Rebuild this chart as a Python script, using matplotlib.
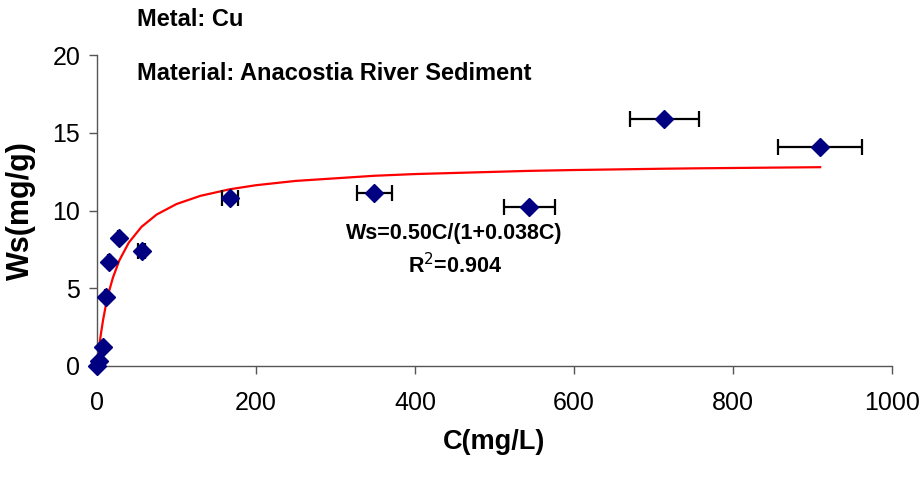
import numpy as np
import matplotlib.pyplot as plt

plt.rcParams['font.family'] = ['Liberation Sans', 'DejaVu Sans']

# measured equilibrium data: C (mg/L), Ws (mg/g), x error (mg/L)
conc = [0.5, 2.0, 7.6, 11.0, 15.0, 28.0, 56.0, 167.0, 349.0, 544.0, 714.0, 910.0]
ws = [0.0, 0.3, 1.2, 4.45, 6.7, 8.25, 7.4, 10.8, 11.1, 10.2, 15.9, 14.1]
conc_err = [0.0, 0.0, 0.5, 0.5, 1.0, 1.5, 4.0, 10.0, 22.0, 32.0, 43.0, 53.0]

# Langmuir fit Ws = a*C/(1+b*C)
fit_a = 0.50
fit_b = 0.038
fit_r2 = 0.904
fit_c = [0, 1, 2, 3, 5, 7.6, 11, 15, 20, 28, 40, 56, 75, 100, 130, 167, 200, 250,
         349, 400, 544, 600, 714, 758, 910]

fig = plt.figure(figsize=(9.24, 4.79), dpi=100)
ax = fig.add_axes([0.105, 0.236, 0.86, 0.649])

fc = np.array(fit_c, dtype=float)
ax.plot(fc, fit_a * fc / (1 + fit_b * fc), color='#ff0000', lw=1.6, zorder=2)

eb = ax.errorbar(conc, ws, xerr=conc_err, fmt='D', color='#000080', ms=9,
                 ecolor='black', elinewidth=1.6, capsize=5.5, capthick=1.6, zorder=3)
eb[0].set_clip_on(False)

ax.set_xlim(0, 1000)
ax.set_ylim(0, 20)
ax.set_xticks([0, 200, 400, 600, 800, 1000])
ax.set_yticks([0, 5, 10, 15, 20])
ax.tick_params(labelsize=18, length=6, width=1, color='#555555')
ax.tick_params(axis='x', pad=12)
ax.tick_params(axis='y', pad=6)

for s in ['top', 'right']:
    ax.spines[s].set_visible(False)
for s in ['left', 'bottom']:
    ax.spines[s].set_color('#555555')
    ax.spines[s].set_linewidth(1)

ax.set_xlabel('C(mg/L)', fontsize=19.5, fontweight='bold', labelpad=10)
ax.set_ylabel('Ws(mg/g)', fontsize=22, fontweight='bold', labelpad=12)

fig.text(137 / 924, 1 - 20 / 479, 'Metal: Cu', fontsize=17, fontweight='bold',
         ha='left', va='center')
fig.text(137 / 924, 1 - 74 / 479, 'Material: Anacostia River Sediment', fontsize=17,
         fontweight='bold', ha='left', va='center')

ax.text(450, 8.5, f'Ws={fit_a:.2f}C/(1+{fit_b:.3f}C)', fontsize=15.5,
        fontweight='bold', ha='center', va='center')
ax.text(450, 6.45, f'R$^2$={fit_r2:.3f}', fontsize=15.5, fontweight='bold',
        ha='center', va='center')

fig.savefig('out.png', dpi=100, facecolor='white')
